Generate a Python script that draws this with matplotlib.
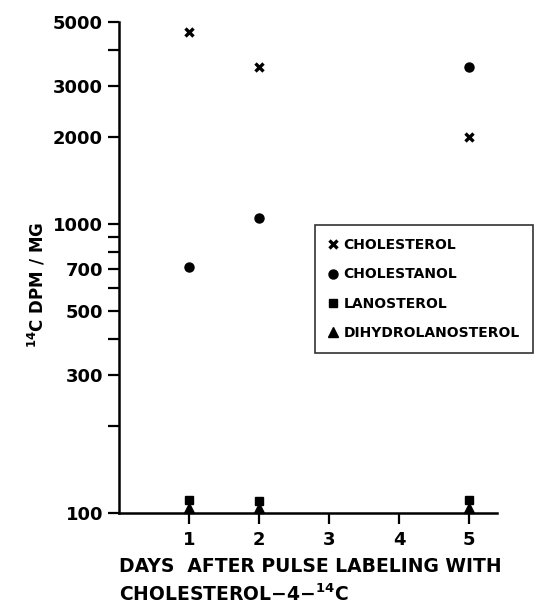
import matplotlib
matplotlib.use("Agg")
import matplotlib.pyplot as plt
from matplotlib.ticker import FixedLocator, NullFormatter

# data
days = [1, 2, 5]
cholesterol = [4600, 3500, 2000]
cholestanol = [710, 1050, 3500]
lanosterol = [111, 110, 111]
dihydrolanosterol = [104, 104, 104]

major_ticks = [100, 300, 500, 700, 1000, 2000, 3000, 5000]
minor_ticks = [200, 400, 600, 800, 900, 4000]
x_ticks = [1, 2, 3, 4, 5]

plt.rcParams['font.family'] = ['DejaVu Sans']
plt.rcParams['font.weight'] = 'bold'
plt.rcParams['axes.labelweight'] = 'bold'
plt.rcParams['mathtext.default'] = 'bf'

fig = plt.figure(figsize=(5.46, 6.07), dpi=100)
ax = fig.add_axes([119/546, 1-513/607, (497-119)/546, (513-22)/607])

ax.plot(days, cholesterol, linestyle='none', marker='x', color='black',
        markersize=6, markeredgewidth=2.4, label='CHOLESTEROL', clip_on=False)
ax.plot(days, cholestanol, linestyle='none', marker='o', color='black',
        markersize=6.5, label='CHOLESTANOL', clip_on=False)
ax.plot(days, lanosterol, linestyle='none', marker='s', color='black',
        markersize=5.5, label='LANOSTEROL', clip_on=False)
ax.plot(days, dihydrolanosterol, linestyle='none', marker='^', color='black',
        markersize=6.5, label='DIHYDROLANOSTEROL', clip_on=False)

ax.set_yscale('log')
ax.set_ylim(100, 5000)
ax.set_xlim(0, 5.4)

ax.yaxis.set_major_locator(FixedLocator(major_ticks))
ax.yaxis.set_minor_locator(FixedLocator(minor_ticks))
ax.yaxis.set_minor_formatter(NullFormatter())
ax.set_yticklabels([str(t) for t in major_ticks])
ax.set_xticks(x_ticks)
ax.set_xticklabels([str(t) for t in x_ticks])

for s in ['top', 'right']:
    ax.spines[s].set_visible(False)
for s in ['left', 'bottom']:
    ax.spines[s].set_linewidth(1.8)

ax.tick_params(which='both', direction='out', length=8, width=1.6, labelsize=13)
ax.tick_params(axis='x', pad=5)

ax.set_ylabel(r'$^{14}$C DPM / MG', fontsize=12)
ax.yaxis.set_label_coords(-0.19, 0.465)

fig.text(119/546, 1-566/607, 'DAYS  AFTER PULSE LABELING WITH', fontsize=13.5,
         ha='left', va='center')
fig.text(119/546, 1-594/607, r'CHOLESTEROL$-$4$-$$^{14}$C', fontsize=13.5,
         ha='left', va='center')

leg = ax.legend(loc='upper left', bbox_to_anchor=(315/546, 1-225/607),
                bbox_transform=fig.transFigure, fontsize=10, frameon=True,
                fancybox=False, edgecolor='black', handlelength=0.7,
                handletextpad=0.4, labelspacing=1.1, borderpad=0.95,
                borderaxespad=0, markerscale=1.0)
leg.get_frame().set_linewidth(1.2)

fig.savefig('out.png', dpi=100)
